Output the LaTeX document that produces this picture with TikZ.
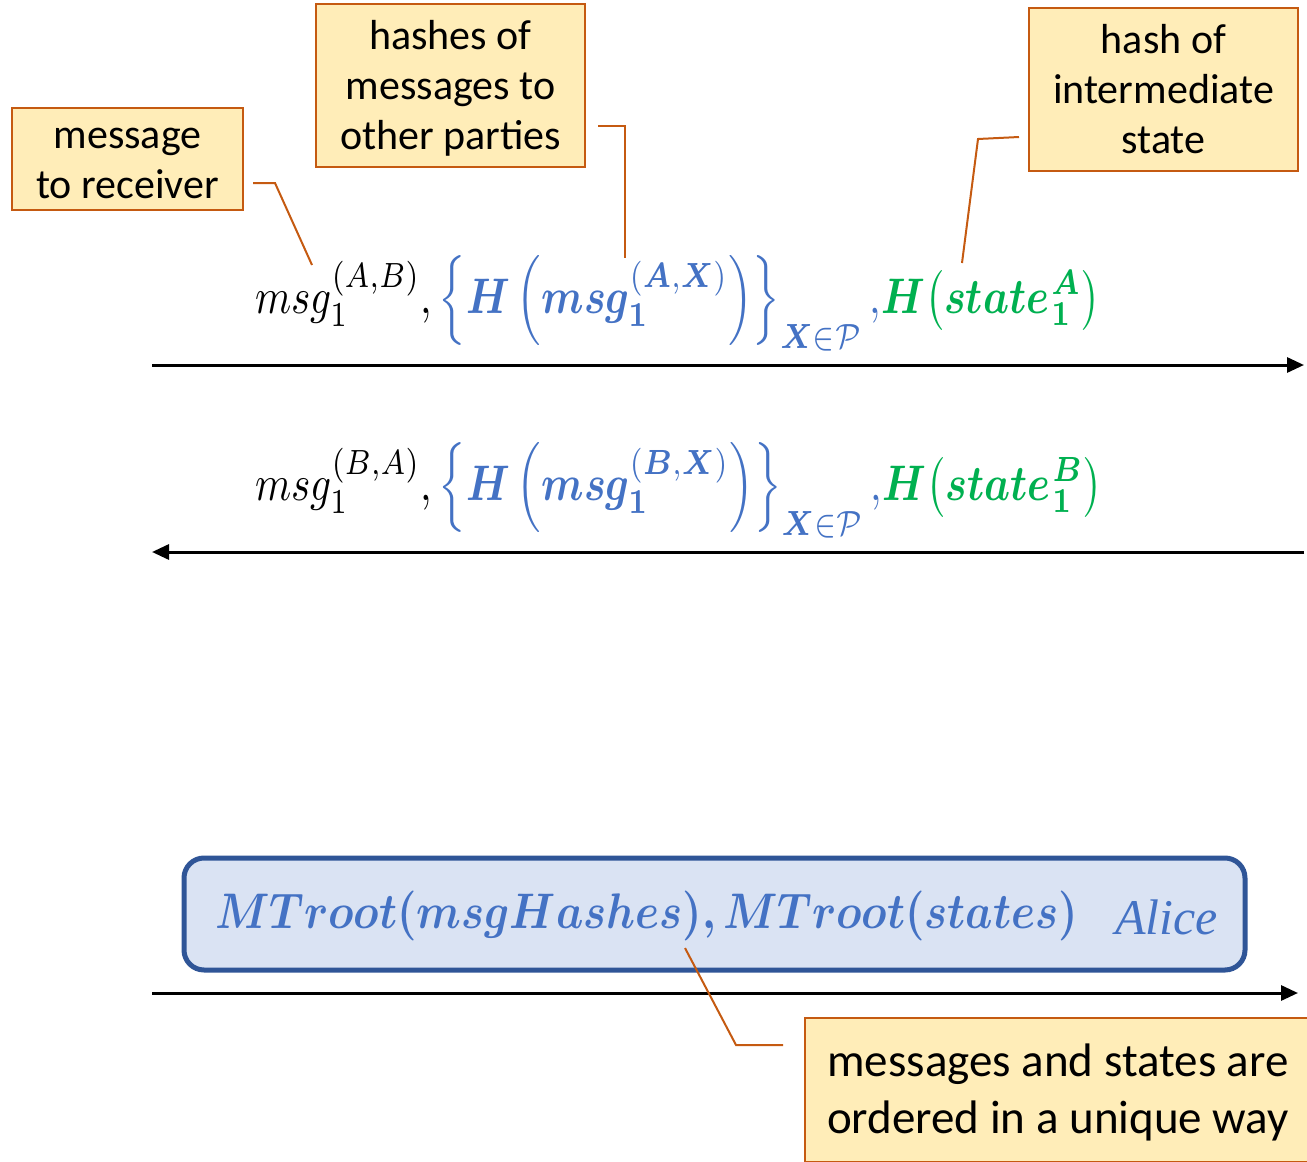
\documentclass[tikz,border=0pt]{standalone}
\usepackage{graphicx}
\usepackage{amsmath,amssymb,bm}
\usepackage{fontspec}
\setmainfont{Carlito}
\newfontfamily\sigfont{Liberation Serif}
\usetikzlibrary{arrows.meta}

\definecolor{notefill}{HTML}{FFEDB8}
\definecolor{noteedge}{HTML}{C55A11}
\definecolor{fblue}{HTML}{4472C4}
\definecolor{fgreen}{HTML}{00B050}
\definecolor{boxfill}{HTML}{DAE3F3}
\definecolor{boxedge}{HTML}{2F5597}

% math set large, slightly condensed
\newcommand\bigmath[2]{\scalebox{#1}[5]{#2}}
% centred lines of a note, set a little low in their box
\newcommand\notelines[1]{\raisebox{-4pt}[\height][\depth]{\begin{tabular}{@{}c@{}}#1\end{tabular}}}

\tikzset{
  note/.style={draw=noteedge, fill=notefill, line width=2pt,
    inner sep=0pt, font=\fontsize{42}{50}\selectfont},
  leader/.style={draw=noteedge, line width=2pt},
  flow/.style={line width=3pt, -{Triangle[length=17pt,width=15pt]}},
  formula/.style={inner sep=0pt, anchor=base west},
}

\begin{document}
\begin{tikzpicture}[x=1pt,y=-1pt]
\useasboundingbox (0,0) rectangle (1307,1162);

% callout boxes
\node[note, minimum width=231pt, minimum height=102pt] (recv) at (127.5,159)
  {\notelines{message\\to receiver}};
\node[note, minimum width=269pt, minimum height=163pt] (others) at (450.5,85.5)
  {\notelines{hashes of\\messages to\\other parties}};
\node[note, minimum width=269pt, minimum height=163pt] (inter) at (1163.5,89.5)
  {\notelines{hash of\\intermediate\\state}};
\node[note, minimum width=506pt, minimum height=144pt,
      font=\fontsize{47}{57}\selectfont] (order) at (1058,1090)
  {\notelines{messages and states are\\ordered in a unique way}};

% round 1 messages
\node[formula] (m1) at (255,313) {\bigmath{4.12}{$msg_1^{(A,B)},
   {\color{fblue}\left\{\bm{H}\left(\bm{msg}^{(\bm{A},\bm{X})}_{\bm{1}}\right)\right\}_{\bm{X}\in\mathcal{P}},}
   {\color{fgreen}\bm{H}\!\left(\bm{state}\mkern1mu^{\bm{A}}_{\bm{1}}\right)}$}};
\node[formula] (m2) at (255,500) {\bigmath{4.12}{$msg_1^{(B,A)},
   {\color{fblue}\left\{\bm{H}\left(\bm{msg}^{(\bm{B},\bm{X})}_{\bm{1}}\right)\right\}_{\bm{X}\in\mathcal{P}},}
   {\color{fgreen}\bm{H}\!\left(\bm{state}\mkern1mu^{\bm{B}}_{\bm{1}}\right)}$}};

% flows between the parties
\coordinate (r1s) at (152,365);
\coordinate (r1e) at (1304,365);
\coordinate (r2s) at (1304,552);
\coordinate (r2e) at (152,552);
\coordinate (r3s) at (152,993);
\coordinate (r3e) at (1298,993);
\draw[flow] (r1s) -- (r1e);
\draw[flow] (r2s) -- (r2e);
\draw[flow] (r3s) -- (r3e);

% signed commitment
\node[draw=boxedge, fill=boxfill, line width=5pt, rounded corners=20pt,
      minimum width=1061pt, minimum height=112pt] (commit) at (714.5,914) {};
\node[formula, text=fblue] (roots) at (215,928)
  {\bigmath{4.34}{$\bm{MTroot(msgHashes),MTroot(states)}$}};
\node[inner sep=0pt, anchor=base west, text=fblue,
      font=\fontsize{50}{58}\sigfont\itshape] (sig) at (1115,934) {Alice};

% leader lines
\coordinate (a1) at (253,183); \coordinate (a2) at (275,183); \coordinate (a3) at (312,265);
\coordinate (b1) at (598,126); \coordinate (b2) at (625,126); \coordinate (b3) at (625,258);
\coordinate (c1) at (1019,137); \coordinate (c2) at (978,139); \coordinate (c3) at (962,263);
\coordinate (d1) at (783,1045); \coordinate (d2) at (736,1045); \coordinate (d3) at (685,948);
\draw[leader] (a1) -- (a2) -- (a3);
\draw[leader] (b1) -- (b2) -- (b3);
\draw[leader] (c1) -- (c2) -- (c3);
\draw[leader] (d1) -- (d2) -- (d3);
\end{tikzpicture}
\end{document}
